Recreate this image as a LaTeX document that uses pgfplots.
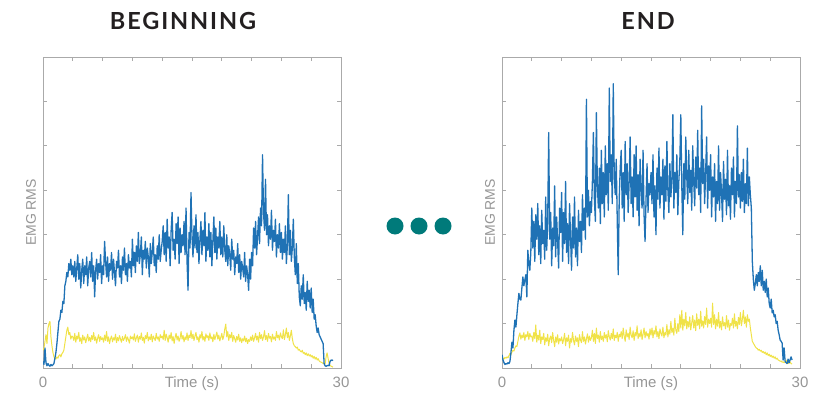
\documentclass[border=0pt]{standalone}
\usepackage{pgfplots}
\pgfplotsset{compat=1.18}
\usepackage{pgfplotstable}
\usepackage{fontspec}
\setmainfont{Liberation Sans}
\newfontfamily\titlefont[LetterSpace=8]{Lato}
\definecolor{emgblue}{RGB}{31,114,181}
\definecolor{emgyellow}{RGB}{240,226,72}
\definecolor{axgray}{RGB}{170,170,170}
\definecolor{txtgray}{RGB}{150,150,150}
\definecolor{dotteal}{RGB}{0,122,122}
\definecolor{titlecol}{RGB}{35,31,32}

% Left (BEGINNING) blue, one value every 0.1 s
\pgfplotstableread[header=false,row sep=\\]{
0.15\\0.08\\0.45\\0.12\\0.05\\0.10\\0.06\\0.04\\0.08\\0.05\\0.07\\0.10\\0.22\\0.35\\
0.55\\0.80\\1.05\\1.10\\1.30\\1.25\\1.50\\1.45\\1.85\\1.95\\2.15\\2.05\\2.35\\2.20\\2.45\\2.10\\
2.30\\2.05\\2.40\\1.95\\2.25\\2.55\\2.00\\2.35\\1.80\\2.20\\2.45\\1.90\\2.30\\2.10\\2.50\\1.85\\2.25\\2.40\\2.05\\2.60\\1.95\\2.30\\1.60\\2.20\\2.45\\2.00\\2.35\\2.15\\2.55\\1.90\\
2.30\\2.10\\2.85\\2.40\\2.05\\2.50\\1.95\\2.35\\2.20\\2.60\\2.00\\2.45\\2.15\\1.85\\2.40\\2.25\\2.65\\2.05\\2.30\\1.90\\2.50\\2.20\\2.70\\2.10\\2.35\\1.95\\2.55\\2.25\\2.40\\2.05\\
2.90\\2.30\\2.60\\2.15\\2.75\\2.40\\3.05\\2.35\\2.55\\2.95\\2.10\\2.65\\2.45\\2.85\\2.25\\2.70\\2.50\\2.05\\2.80\\2.35\\2.60\\2.95\\2.30\\2.55\\2.15\\2.75\\2.45\\3.00\\2.40\\2.65\\
2.85\\3.20\\2.55\\3.05\\2.40\\3.35\\2.70\\2.95\\2.30\\3.10\\3.50\\2.65\\2.90\\2.45\\3.25\\2.80\\3.40\\2.35\\3.15\\2.60\\3.00\\2.75\\3.30\\2.55\\3.60\\2.40\\1.75\\3.05\\2.70\\3.95\\
2.95\\2.50\\3.20\\2.70\\3.45\\2.60\\3.05\\2.35\\2.90\\3.30\\2.55\\3.10\\2.75\\3.50\\2.40\\2.95\\2.65\\3.25\\2.50\\3.05\\2.30\\2.85\\3.40\\2.60\\3.15\\2.45\\2.95\\2.70\\3.30\\2.55\\
2.95\\2.50\\3.20\\2.65\\2.40\\3.00\\2.30\\2.75\\2.55\\2.20\\2.90\\2.45\\2.65\\2.10\\2.50\\2.35\\2.80\\2.15\\2.55\\2.00\\2.40\\2.25\\2.05\\2.60\\1.95\\2.30\\2.10\\1.75\\2.45\\2.00\\
2.60\\2.30\\3.15\\2.70\\3.30\\2.55\\2.95\\3.40\\2.80\\3.60\\3.20\\4.80\\3.50\\3.10\\4.25\\3.00\\3.45\\2.75\\3.20\\2.90\\3.55\\2.65\\3.10\\2.85\\3.35\\2.50\\3.00\\2.70\\3.25\\2.60\\
3.05\\2.45\\2.90\\2.60\\3.20\\2.35\\2.75\\3.90\\2.55\\3.10\\2.40\\2.70\\3.35\\2.50\\2.10\\2.80\\1.90\\2.35\\1.60\\1.40\\
1.85\\1.55\\2.10\\1.45\\1.70\\1.30\\1.95\\1.50\\1.75\\1.35\\1.80\\1.25\\1.55\\1.10\\1.20\\0.95\\0.80\\0.90\\0.75\\0.70\\
0.65\\0.60\\0.55\\0.10\\0.05\\0.04\\0.05\\0.06\\0.05\\0.15\\0.18\\0.17\\0.18\\
}\LB

% Left (BEGINNING) yellow
\pgfplotstableread[header=false,row sep=\\]{
0.40\\0.45\\0.60\\0.75\\0.55\\0.90\\1.00\\1.05\\0.70\\0.50\\0.35\\0.25\\0.22\\0.20\\
0.25\\0.22\\0.28\\0.30\\0.25\\0.32\\0.35\\0.40\\0.55\\0.70\\0.85\\0.92\\0.75\\0.80\\0.65\\0.72\\
0.70\\0.62\\0.78\\0.58\\0.72\\0.65\\0.80\\0.60\\0.68\\0.55\\0.74\\0.63\\0.70\\0.57\\0.66\\0.76\\0.61\\0.69\\0.59\\0.73\\0.64\\0.80\\0.62\\0.70\\0.56\\0.67\\0.75\\0.60\\0.71\\0.64\\
0.68\\0.58\\0.74\\0.62\\0.82\\0.60\\0.70\\0.55\\0.66\\0.72\\0.59\\0.68\\0.63\\0.76\\0.57\\0.69\\0.61\\0.73\\0.65\\0.58\\0.71\\0.62\\0.67\\0.75\\0.60\\0.70\\0.64\\0.56\\0.72\\0.66\\
0.70\\0.63\\0.77\\0.60\\0.68\\0.74\\0.58\\0.71\\0.65\\0.79\\0.62\\0.69\\0.56\\0.73\\0.66\\0.80\\0.61\\0.70\\0.64\\0.76\\0.59\\0.72\\0.67\\0.62\\0.78\\0.65\\0.70\\0.60\\0.75\\0.68\\
0.72\\0.64\\0.85\\0.62\\0.76\\0.68\\0.58\\0.74\\0.66\\0.80\\0.61\\0.71\\0.55\\0.69\\0.78\\0.63\\0.72\\0.60\\0.67\\0.82\\0.65\\0.73\\0.59\\0.70\\0.64\\0.79\\0.62\\0.74\\0.68\\0.84\\
0.66\\0.76\\0.62\\0.72\\0.80\\0.64\\0.70\\0.58\\0.75\\0.67\\0.82\\0.63\\0.71\\0.60\\0.77\\0.68\\0.73\\0.62\\0.79\\0.66\\0.70\\0.59\\0.76\\0.64\\0.72\\0.81\\0.65\\0.74\\0.61\\0.69\\
0.78\\0.64\\0.72\\0.88\\0.99\\0.70\\0.82\\0.62\\0.75\\0.68\\0.80\\0.60\\0.73\\0.66\\0.58\\0.71\\0.63\\0.76\\0.60\\0.68\\0.57\\0.66\\0.61\\0.72\\0.59\\0.67\\0.55\\0.64\\0.60\\0.70\\
0.62\\0.74\\0.60\\0.68\\0.78\\0.63\\0.72\\0.58\\0.80\\0.66\\0.75\\0.62\\0.70\\0.84\\0.64\\0.73\\0.60\\0.78\\0.67\\0.71\\0.59\\0.76\\0.65\\0.70\\0.62\\0.82\\0.68\\0.74\\0.63\\0.79\\
0.70\\0.66\\0.86\\0.64\\0.75\\0.90\\0.68\\0.80\\0.62\\0.72\\0.85\\0.66\\0.55\\0.50\\0.48\\0.45\\0.47\\0.40\\0.42\\0.38\\
0.36\\0.40\\0.33\\0.35\\0.30\\0.34\\0.28\\0.32\\0.27\\0.30\\0.25\\0.28\\0.22\\0.26\\0.20\\0.24\\0.18\\0.21\\0.16\\0.14\\
0.13\\0.12\\0.10\\0.11\\0.09\\0.25\\0.34\\0.22\\0.10\\0.06\\0.04\\0.03\\0.02\\
}\LY

% Right (END) blue
\pgfplotstableread[header=false,row sep=\\]{
0.30\\0.18\\0.12\\0.08\\0.10\\0.09\\0.12\\0.10\\0.15\\0.35\\0.58\\0.45\\0.85\\1.08\\
0.92\\1.20\\1.45\\1.68\\1.55\\1.53\\1.80\\2.05\\1.85\\1.98\\2.10\\1.60\\2.65\\2.35\\2.20\\2.60\\
3.60\\2.70\\3.30\\2.40\\3.45\\2.90\\3.70\\2.55\\3.20\\2.35\\3.55\\2.80\\3.10\\2.45\\3.85\\2.65\\3.30\\5.30\\2.90\\3.50\\2.30\\3.15\\2.75\\4.10\\2.50\\3.40\\2.85\\2.25\\3.60\\3.05\\
3.95\\2.40\\3.50\\2.80\\4.20\\2.60\\3.25\\2.35\\3.70\\2.95\\2.20\\3.40\\2.70\\3.85\\2.50\\3.15\\2.30\\3.55\\2.85\\3.30\\2.60\\3.90\\3.10\\3.60\\2.90\\6.05\\3.40\\4.00\\3.20\\3.75\\
3.50\\4.20\\5.30\\3.80\\3.30\\5.75\\4.10\\3.60\\4.50\\3.25\\4.90\\3.70\\4.40\\3.40\\5.00\\3.90\\4.60\\3.55\\6.30\\4.20\\4.80\\3.70\\6.40\\4.30\\3.90\\4.70\\3.35\\2.10\\3.80\\4.50\\
4.90\\3.60\\4.40\\3.30\\5.10\\3.90\\4.60\\3.50\\4.20\\5.20\\3.70\\4.30\\3.40\\4.80\\3.85\\5.00\\3.55\\4.35\\3.20\\4.70\\4.00\\3.60\\4.90\\3.45\\2.85\\3.80\\4.60\\3.50\\4.15\\3.90\\
4.40\\3.70\\4.80\\3.40\\4.10\\3.00\\4.50\\3.80\\4.95\\3.60\\4.30\\3.90\\4.70\\3.35\\4.55\\3.75\\5.10\\4.00\\3.50\\4.60\\3.85\\4.25\\5.70\\3.60\\4.40\\3.95\\4.80\\3.45\\4.20\\4.65\\
5.70\\4.10\\3.00\\4.60\\3.80\\5.20\\4.30\\3.70\\4.90\\3.95\\4.45\\3.55\\5.00\\4.20\\3.65\\4.75\\4.05\\5.35\\3.90\\4.50\\3.50\\5.90\\4.15\\4.70\\3.70\\4.40\\5.20\\3.60\\4.55\\4.00\\
4.80\\3.40\\4.30\\3.85\\4.60\\3.30\\4.20\\3.70\\5.00\\3.55\\4.40\\3.95\\3.30\\4.65\\3.80\\4.25\\3.45\\4.90\\3.65\\4.10\\3.35\\4.50\\3.90\\4.75\\3.40\\4.20\\3.70\\5.45\\3.85\\4.35\\
3.60\\4.40\\3.75\\4.70\\3.50\\4.15\\3.70\\4.95\\3.65\\4.30\\3.90\\3.60\\2.40\\2.00\\1.75\\1.90\\2.10\\1.85\\2.15\\1.95\\
2.30\\1.85\\2.20\\1.75\\1.95\\1.70\\2.00\\1.60\\1.80\\1.45\\1.35\\1.55\\1.24\\1.30\\1.15\\1.20\\1.00\\1.05\\0.85\\0.75\\
0.63\\0.60\\0.56\\0.18\\0.45\\0.15\\0.12\\0.10\\0.20\\0.12\\0.18\\0.25\\0.18\\
}\RB

% Right (END) yellow
\pgfplotstableread[header=false,row sep=\\]{
0.25\\0.22\\0.20\\0.24\\0.22\\0.25\\0.23\\0.28\\0.33\\0.30\\0.36\\0.40\\0.38\\0.45\\
0.50\\0.48\\0.60\\0.72\\0.79\\0.65\\0.74\\0.68\\0.80\\0.62\\0.75\\0.70\\0.82\\0.64\\0.78\\0.70\\
0.72\\0.60\\0.80\\0.66\\0.97\\0.58\\0.74\\0.63\\0.85\\0.55\\0.70\\0.64\\0.78\\0.52\\0.68\\0.60\\0.76\\0.50\\0.66\\0.72\\0.57\\0.80\\0.62\\0.48\\0.70\\0.58\\0.75\\0.54\\0.66\\0.61\\
0.70\\0.55\\0.64\\0.78\\0.50\\0.68\\0.60\\0.74\\0.45\\0.66\\0.58\\0.80\\0.62\\0.52\\0.72\\0.60\\0.68\\0.48\\0.75\\0.63\\0.57\\0.82\\0.60\\0.70\\0.54\\0.66\\0.77\\0.58\\0.72\\0.62\\
0.68\\0.85\\0.60\\0.78\\0.55\\0.90\\0.66\\0.74\\0.58\\0.82\\0.64\\0.72\\0.60\\0.80\\0.67\\0.75\\0.59\\0.84\\0.70\\0.63\\0.78\\0.66\\0.88\\0.62\\0.74\\0.68\\0.80\\0.60\\0.76\\0.70\\
0.82\\0.66\\0.90\\0.72\\0.60\\0.86\\0.70\\0.78\\0.64\\0.92\\0.74\\0.68\\0.84\\0.62\\0.80\\0.72\\0.95\\0.66\\0.78\\0.70\\0.86\\0.64\\0.76\\0.90\\0.68\\0.82\\0.72\\0.78\\0.65\\0.88\\
0.74\\0.90\\0.68\\0.84\\0.76\\0.95\\0.70\\0.82\\0.66\\0.88\\0.78\\0.72\\0.92\\0.68\\0.80\\0.74\\0.98\\0.70\\0.86\\0.76\\1.05\\0.80\\0.90\\0.74\\1.12\\0.85\\0.78\\1.00\\0.82\\1.20\\
0.90\\1.30\\0.85\\1.10\\0.95\\1.25\\0.88\\1.05\\0.92\\1.15\\0.86\\1.02\\1.18\\0.90\\1.08\\0.84\\1.22\\0.96\\1.10\\0.88\\1.28\\0.94\\1.06\\0.90\\1.16\\0.98\\1.35\\0.92\\1.10\\1.00\\
1.12\\0.92\\1.46\\0.98\\1.20\\0.88\\1.10\\0.94\\1.25\\0.90\\1.05\\0.86\\1.15\\0.95\\1.02\\0.88\\1.18\\0.92\\1.08\\0.85\\1.00\\0.96\\1.12\\0.90\\1.22\\0.94\\1.05\\0.88\\1.14\\0.98\\
1.25\\0.95\\1.10\\1.30\\1.00\\1.15\\0.92\\1.20\\1.05\\1.10\\0.90\\0.75\\0.60\\0.56\\0.52\\0.48\\0.45\\0.44\\0.40\\0.42\\
0.38\\0.40\\0.35\\0.37\\0.33\\0.36\\0.30\\0.34\\0.28\\0.31\\0.26\\0.29\\0.24\\0.27\\0.22\\0.25\\0.20\\0.22\\0.18\\0.17\\
0.15\\0.16\\0.13\\0.14\\0.12\\0.13\\0.18\\0.12\\0.10\\0.11\\0.14\\0.10\\0.09\\
}\RY

\pgfplotsset{
  emgaxis/.style={
    scale only axis, width=298pt, height=311pt,
    xmin=0, xmax=30, ymin=0, ymax=7,
    xtick={0,3,...,30},
    xticklabels={0,{},{},{},{},{},{},{},{},{},30},
    ytick={0,1,...,7}, yticklabels={},
    tick pos=both, tick align=inside,
    major tick length=4pt,
    axis line style={axgray, line width=0.8pt},
    tick style={axgray, line width=0.8pt},
    /pgf/number format/assume math mode=true,
    ticklabel style={font=\fontsize{15}{15}\selectfont, text=txtgray},
    xticklabel style={yshift=-5pt},
    xlabel={Time (s)},
    xlabel style={at={(axis description cs:0.5,0)}, anchor=north, yshift=-5pt,
      font=\fontsize{15}{15}\selectfont, text=txtgray},
    ylabel={EMG RMS},
    ylabel style={at={(axis description cs:-0.012,0.5)}, anchor=south, rotate=0,
      font=\fontsize{14}{14}\selectfont, text=txtgray},
  },
  blueline/.style={emgblue, line width=1.3pt, line join=round, no marks},
  yellowline/.style={emgyellow, line width=1.0pt, line join=round, no marks},
}

\begin{document}
\begin{tikzpicture}
\path[use as bounding box] (0,0) rectangle (821pt,392pt);

\begin{axis}[emgaxis, at={(43pt,24pt)}, anchor=south west]
  \addplot[yellowline] table[x expr=\coordindex*0.1, y index=0] {\LY};
  \addplot[blueline] table[x expr=\coordindex*0.1, y index=0] {\LB};
\end{axis}

\begin{axis}[emgaxis, at={(502pt,24pt)}, anchor=south west]
  \addplot[yellowline] table[x expr=\coordindex*0.1, y index=0] {\RY};
  \addplot[blueline] table[x expr=\coordindex*0.1, y index=0] {\RB};
\end{axis}

\node[font=\titlefont\bfseries\fontsize{23.5}{24}\selectfont, text=titlecol] at (183pt,370.5pt) {BEGINNING};
\node[font=\titlefont\bfseries\fontsize{23.5}{24}\selectfont, text=titlecol] at (648pt,370.5pt) {END};

\fill[dotteal] (395pt,166pt) circle (8.5pt);
\fill[dotteal] (419pt,166pt) circle (8.5pt);
\fill[dotteal] (443pt,166pt) circle (8.5pt);
\end{tikzpicture}
\end{document}
